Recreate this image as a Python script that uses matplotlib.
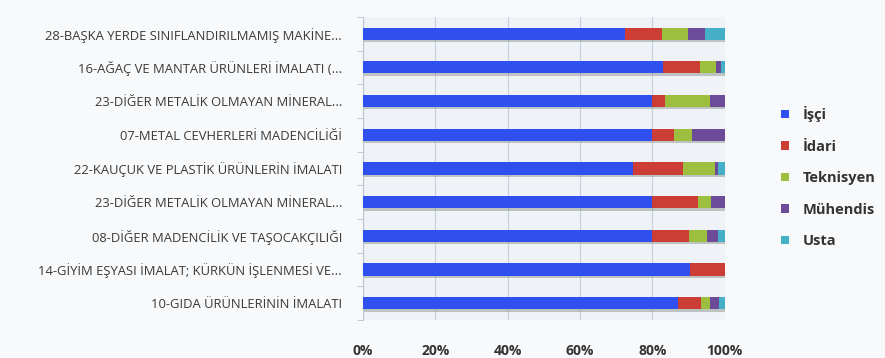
import matplotlib
matplotlib.use("Agg")
import matplotlib.pyplot as plt
import numpy as np

plt.rcParams['font.family'] = ['Open Sans', 'DejaVu Sans']

sectors = [
    '28-BAŞKA YERDE SINIFLANDIRILMAMIŞ MAKİNE...',
    '16-AĞAÇ VE MANTAR ÜRÜNLERİ İMALATI (...',
    '23-DİĞER METALİK OLMAYAN MİNERAL...',
    '07-METAL CEVHERLERİ MADENCİLİĞİ',
    '22-KAUÇUK VE PLASTİK ÜRÜNLERİN İMALATI',
    '23-DİĞER METALİK OLMAYAN MİNERAL...',
    '08-DİĞER MADENCİLİK VE TAŞOCAKÇILIĞI',
    '14-GİYİM EŞYASI İMALAT; KÜRKÜN İŞLENMESİ VE...',
    '10-GIDA ÜRÜNLERİNİN İMALATI',
]
isci      = [72.4, 83.0, 80.0, 80.0, 74.5, 80.0, 80.0, 90.3, 87.0]
idari     = [10.2, 10.2,  3.5,  6.0, 14.0, 12.5, 10.0,  9.7,  6.5]
teknisyen = [ 7.2,  4.3, 12.5,  5.0,  8.7,  3.8,  5.0,  0.0,  2.5]
muhendis  = [ 4.7,  1.5,  4.0,  9.0,  0.8,  3.7,  3.0,  0.0,  2.5]
usta      = [ 5.5,  1.0,  0.0,  0.0,  2.0,  0.0,  2.0,  0.0,  1.5]

series = ['İşçi', 'İdari', 'Teknisyen', 'Mühendis', 'Usta']
colors = ['#2f50ee', '#cc3d36', '#9cbf3f', '#6c4b98', '#45afc8']
ticks = [0, 20, 40, 60, 80, 100]

fig = plt.figure(figsize=(8.85, 3.58), dpi=100, facecolor='#f8f9fb')
ax = fig.add_axes([0.410, 0.106, 0.409, 0.847], facecolor='#eff2f7')

y = np.arange(len(sectors))
h = 0.36
data = np.array([isci, idari, teknisyen, muhendis, usta])
totals = data.sum(axis=0)
pct = data / totals * 100

# soft shadow under each bar
ax.barh(y + 0.07, 100, height=h, color='#7f8a80', alpha=0.45, zorder=2)

left = np.zeros(len(sectors))
for vals, name, c in zip(pct, series, colors):
    ax.barh(y, vals, left=left, height=h, color=c, label=name,
            edgecolor='none', zorder=3)
    left += vals

ax.set_xlim(0, 100)
ax.set_ylim(len(sectors) - 0.5, -0.5)
ax.set_xticks(ticks)
ax.set_xticklabels([f'{t}%' for t in ticks], fontsize=10, fontweight='bold',
                   color='#333333')
ax.set_yticks(y)
ax.set_yticklabels(sectors, fontsize=9.4, color='#3a3a3a')
ax.set_yticks(np.arange(len(sectors) + 1) - 0.5, minor=True)
ax.tick_params(axis='y', which='major', length=0, pad=15)
ax.tick_params(axis='y', which='minor', length=4, color='#b8c4d0')
ax.tick_params(axis='x', length=0, pad=17)
ax.grid(axis='x', color='#c6d2de', linewidth=0.8, zorder=0)
for s in ['top', 'right', 'bottom']:
    ax.spines[s].set_visible(False)
ax.spines['left'].set_color('#b8c4d0')

leg = fig.legend(loc='upper left', bbox_to_anchor=(0.868, 0.74),
                 frameon=False, fontsize=10.5, handlelength=0.55,
                 handleheight=0.55, labelspacing=1.2, handletextpad=0.9)
for t in leg.get_texts():
    t.set_color('#333333')
    t.set_fontweight('bold')

fig.savefig('out.png', dpi=100, facecolor=fig.get_facecolor())
